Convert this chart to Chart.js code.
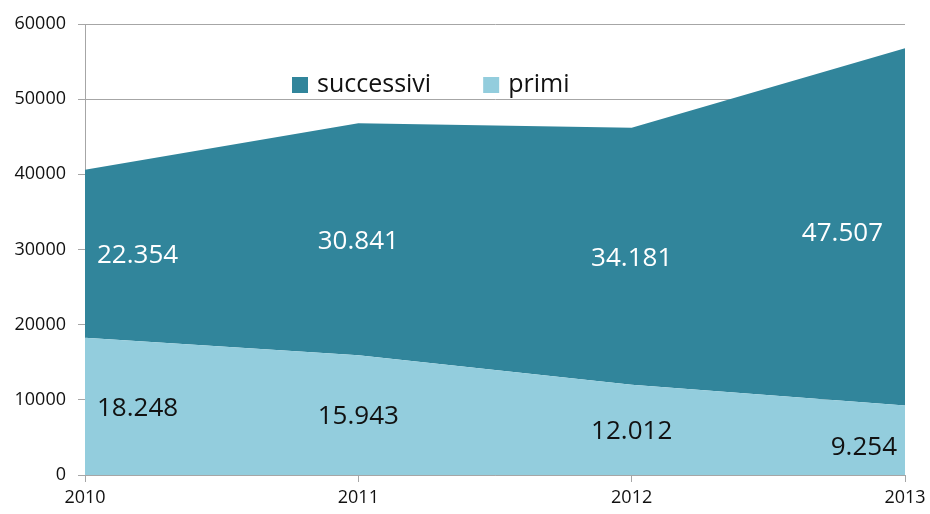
<!DOCTYPE html>
<html>
<head>
<meta charset="utf-8">
<script src="https://cdn.jsdelivr.net/npm/chart.js@4.4.1/dist/chart.umd.min.js"></script>
<style>
  html, body { margin: 0; padding: 0; background: #fff; }
  #wrap { width: 930px; height: 514px; }
</style>
</head>
<body>
<div id="wrap"><canvas id="areaChart" width="930" height="514"></canvas></div>
<script>
const years = ['2010', '2011', '2012', '2013'];
const primi = [18248, 15943, 12012, 9254];
const successivi = [22354, 30841, 34181, 47507];
const yTicks = [0, 10000, 20000, 30000, 40000, 50000, 60000];

const darkTeal = '#31859b';
const lightBlue = '#93cddd';
const font = "'Open Sans', 'DejaVu Sans', sans-serif";

// 18248 -> "18.248"
function fmt(v) {
    return String(v).replace(/\B(?=(\d{3})+(?!\d))/g, '.');
}

// value labels in the middle of each band + legend drawn inside the plot
const labelsPlugin = {
    id: 'bandLabels',
    afterDatasetsDraw(chart) {
        const ctx = chart.ctx;
        const x = chart.scales.x;
        const y = chart.scales.y;
        const area = chart.chartArea;
        const last = years.length - 1;

        ctx.save();
        ctx.font = '26px ' + font;
        ctx.textBaseline = 'middle';
        years.forEach((yr, i) => {
            const px = x.getPixelForValue(i);
            let tx = px, align = 'center', dy = 2;
            if (i === 0) { tx = px + 12; align = 'left'; }
            if (i === last) { tx = px - 8; align = 'right'; dy = 7; }
            ctx.textAlign = align;

            ctx.fillStyle = '#111';
            ctx.fillText(fmt(primi[i]), tx, y.getPixelForValue(primi[i] / 2) + dy);

            ctx.fillStyle = '#fff';
            // top band label of the last year sits a bit further in
            const sx = i === last ? tx - 14 : tx;
            ctx.fillText(fmt(successivi[i]), sx, y.getPixelForValue(primi[i] + successivi[i] / 2) + dy);
        });

        // legend
        const items = [
            { text: 'successivi', color: darkTeal },
            { text: 'primi', color: lightBlue }
        ];
        ctx.font = '25px ' + font;
        ctx.textAlign = 'left';
        ctx.textBaseline = 'middle';
        let lx = area.left + 207;
        const ly = area.top + 61;
        items.forEach(it => {
            ctx.fillStyle = it.color;
            ctx.fillRect(lx, ly - 8, 16, 16);
            ctx.fillStyle = '#111';
            ctx.fillText(it.text, lx + 25, ly);
            lx += 25 + ctx.measureText(it.text).width + 52;
        });
        ctx.restore();
    }
};

new Chart(document.getElementById('areaChart').getContext('2d'), {
    type: 'line',
    data: {
        labels: years,
        datasets: [{
            label: 'primi',
            data: primi,
            backgroundColor: lightBlue,
            borderWidth: 0,
            pointRadius: 0,
            fill: 'origin'
        }, {
            label: 'successivi',
            data: successivi,
            backgroundColor: darkTeal,
            borderWidth: 0,
            pointRadius: 0,
            fill: '-1'
        }]
    },
    options: {
        responsive: false,
        animation: false,
        layout: { padding: { top: 24, right: 25, left: 0, bottom: 0 } },
        plugins: {
            legend: { display: false },
            tooltip: { enabled: false }
        },
        scales: {
            x: {
                offset: false,
                grid: { display: true, drawOnChartArea: false, color: '#a6a6a6', tickLength: 7 },
                border: { color: '#a6a6a6' },
                ticks: { color: '#111', font: { family: font, size: 18 }, padding: 5, maxRotation: 0 },
                afterFit(scale) {
                    scale.height = 39;
                    scale.paddingLeft = 0;
                    scale.paddingRight = 0;
                }
            },
            y: {
                stacked: true,
                min: 0,
                max: 60000,
                afterBuildTicks(scale) {
                    scale.ticks = yTicks.map(v => ({ value: v }));
                },
                grid: { color: '#a6a6a6', tickLength: 7 },
                border: { color: '#a6a6a6' },
                ticks: {
                    color: '#111',
                    font: { family: font, size: 18 },
                    padding: 12,
                    callback: v => String(v)
                },
                afterFit(scale) {
                    scale.width = 85;
                    scale.paddingTop = 0;
                    scale.paddingBottom = 0;
                }
            }
        }
    },
    plugins: [labelsPlugin]
});
</script>
</body>
</html>
